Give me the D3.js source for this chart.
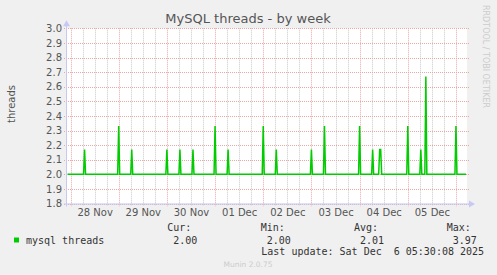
<!DOCTYPE html>
<html>
<head>
<meta charset="utf-8">
<title>MySQL threads - by week</title>
<style>
  body { margin: 0; background: #f0f0f0; }
  svg { display: block; }
  text { font-family: "DejaVu Sans", sans-serif; }
  .mono { font-family: "DejaVu Sans Mono", monospace; font-size: 10px; fill: #333; }
</style>
<script src="https://cdn.jsdelivr.net/npm/d3@7"></script>
</head>
<body>
<svg id="chart" width="497" height="275"></svg>
<script>
// values (30 minute averages, baseline 2 threads)
var baseValue = 2.0;
var spikeTimes = [
  "2025-11-28T07:00", "2025-11-29T00:00", "2025-11-29T06:30", "2025-11-30T00:00",
  "2025-11-30T06:30", "2025-11-30T13:00", "2025-12-01T00:00", "2025-12-01T06:30",
  "2025-12-02T00:00", "2025-12-02T06:30", "2025-12-03T00:00", "2025-12-03T06:30",
  "2025-12-04T00:00", "2025-12-04T06:30", "2025-12-04T10:00", "2025-12-04T10:30",
  "2025-12-05T00:00", "2025-12-05T06:30", "2025-12-05T09:00", "2025-12-06T00:00"
];
var spikeValues = [
  2.17, 2.33, 2.17, 2.17,
  2.17, 2.17, 2.33, 2.17,
  2.33, 2.17, 2.17, 2.33,
  2.33, 2.17, 2.17, 2.17,
  2.33, 2.17, 2.67, 2.33
];
var yTicks = [1.8, 1.9, 2.0, 2.1, 2.2, 2.3, 2.4, 2.5, 2.6, 2.7, 2.8, 2.9, 3.0];
var dayLabels = ["28 Nov", "29 Nov", "30 Nov", "01 Dec", "02 Dec", "03 Dec", "04 Dec", "05 Dec"];
var legendNames = ["mysql threads"];
var legendCur = ["2.00"], legendMin = ["2.00"], legendAvg = ["2.01"], legendMax = ["3.97"];
var lastUpdate = "Last update: Sat Dec  6 05:30:08 2025";

var parse = d3.utcParse("%Y-%m-%dT%H:%M");
var tStart = parse("2025-11-27T22:15"), tEnd = parse("2025-12-06T05:30");

// plot box
var pL = 67, pR = 467, pT = 28.3, pB = 203.5;
var svg = d3.select("#chart");

var x = d3.scaleUtc().domain([tStart, tEnd]).range([pL, pR]);
var y = d3.scaleLinear().domain([1.8, 3.0]).range([pB, pT]);

// build series on the 30 minute grid
var spikeMap = new Map();
spikeTimes.forEach(function (s, i) { spikeMap.set(+parse(s), spikeValues[i]); });
var series = d3.utcMinute.every(30).range(parse("2025-11-27T22:30"), tEnd).map(function (t) {
  return { t: t, v: spikeMap.has(+t) ? spikeMap.get(+t) : baseValue };
});

// plot background
svg.append("rect").attr("x", pL).attr("y", pT).attr("width", pR - pL).attr("height", pB - pT).attr("fill", "#fff");

// minor vertical grid (6h) grey
var minor = d3.utcHour.every(6).range(tStart, tEnd).filter(function (t) { return t.getUTCHours() != 0; });
var days = d3.utcDay.range(tStart, tEnd);
svg.append("g").selectAll("line").data(minor).join("line")
  .attr("x1", function (d) { return Math.round(x(d)) + 0.5; }).attr("x2", function (d) { return Math.round(x(d)) + 0.5; })
  .attr("y1", pT).attr("y2", pB + 2)
  .attr("stroke", "#c8c8c8").attr("stroke-dasharray", "1,1");

// major horizontal grid
svg.append("g").selectAll("line").data(yTicks).join("line")
  .attr("x1", pL - 3).attr("x2", pR + 2)
  .attr("y1", function (d) { return Math.round(y(d)) + 0.5; }).attr("y2", function (d) { return Math.round(y(d)) + 0.5; })
  .attr("stroke", "#e8a8a8").attr("stroke-dasharray", "1,1");

// major vertical grid (days)
svg.append("g").selectAll("line").data(days).join("line")
  .attr("x1", function (d) { return Math.round(x(d)) + 0.5; }).attr("x2", function (d) { return Math.round(x(d)) + 0.5; })
  .attr("y1", pT).attr("y2", pB + 3)
  .attr("stroke", "#e8a8a8").attr("stroke-dasharray", "1,1");

// axes lines with arrows
var axisCol = "#c8c8f5";
svg.append("line").attr("x1", pL - 0.5).attr("x2", pL - 0.5).attr("y1", pB + 3).attr("y2", pT - 4).attr("stroke", axisCol);
svg.append("path").attr("d", "M" + (pL - 4) + "," + (pT - 2) + "L" + (pL - 0.5) + "," + (pT - 8) + "L" + (pL + 3) + "," + (pT - 2) + "Z").attr("fill", axisCol);
svg.append("line").attr("x1", pL - 3).attr("x2", pR + 4).attr("y1", pB + 0.5).attr("y2", pB + 0.5).attr("stroke", axisCol);
svg.append("path").attr("d", "M" + (pR + 2) + "," + (pB - 3) + "L" + (pR + 8) + "," + (pB + 0.5) + "L" + (pR + 2) + "," + (pB + 4) + "Z").attr("fill", axisCol);

// y axis labels
var yAxis = d3.axisLeft(y).tickValues(yTicks).tickFormat(d3.format(".1f")).tickSize(0).tickPadding(5);
var gy = svg.append("g").attr("transform", "translate(" + pL + ",0)").call(yAxis);
gy.select(".domain").remove();
gy.selectAll("text").attr("font-size", 10).attr("fill", "#555").attr("font-family", "DejaVu Sans, sans-serif");

// x axis labels at noon
var noons = days.map(function (d) { return d3.utcHour.offset(d, 12); });
var xAxis = d3.axisBottom(x).tickValues(noons).tickFormat(function (d, i) { return dayLabels[i]; }).tickSize(0).tickPadding(5);
var gx = svg.append("g").attr("transform", "translate(0," + pB + ")").call(xAxis);
gx.select(".domain").remove();
gx.selectAll("text").attr("font-size", 10).attr("fill", "#555").attr("font-family", "DejaVu Sans, sans-serif");

// data line
var line = d3.line().x(function (d) { return x(d.t); }).y(function (d) { return y(d.v); });
svg.append("path").datum(series).attr("d", line).attr("fill", "none").attr("stroke", "#00cc00").attr("stroke-width", 1.5);

// title and labels
svg.append("text").attr("x", 248).attr("y", 23).attr("text-anchor", "middle").attr("font-size", 13).attr("fill", "#555").text("MySQL threads - by week");
svg.append("text").attr("transform", "translate(15,104) rotate(-90)").attr("text-anchor", "middle").attr("font-size", 10).attr("fill", "#555").text("threads");
svg.append("text").attr("transform", "translate(483,5) rotate(90)").attr("font-size", 8).attr("fill", "#ccc").text("RRDTOOL / TOBI OETIKER");

// legend
svg.append("rect").attr("x", 14).attr("y", 237.5).attr("width", 5).attr("height", 5).attr("fill", "#00cc00");
svg.append("text").attr("class", "mono").attr("x", 26).attr("y", 243.5).text(legendNames[0]);
var cols = [[167.3, "Cur:", legendCur[0]], [260.7, "Min:", legendMin[0]], [354, "Avg:", legendAvg[0]], [446.7, "Max:", legendMax[0]]];
cols.forEach(function (c) {
  svg.append("text").attr("class", "mono").attr("x", c[0]).attr("y", 231).text(c[1]);
  svg.append("text").attr("class", "mono").attr("x", c[0] + 6).attr("y", 243.5).text(c[2]);
});
svg.append("text").attr("class", "mono").attr("x", 261.3).attr("y", 255.3).style("white-space", "pre").text(lastUpdate);
svg.append("text").attr("x", 248).attr("y", 267).attr("text-anchor", "middle").attr("font-size", 7.5).attr("fill", "#ccc").text("Munin 2.0.75");
</script>
</body>
</html>
